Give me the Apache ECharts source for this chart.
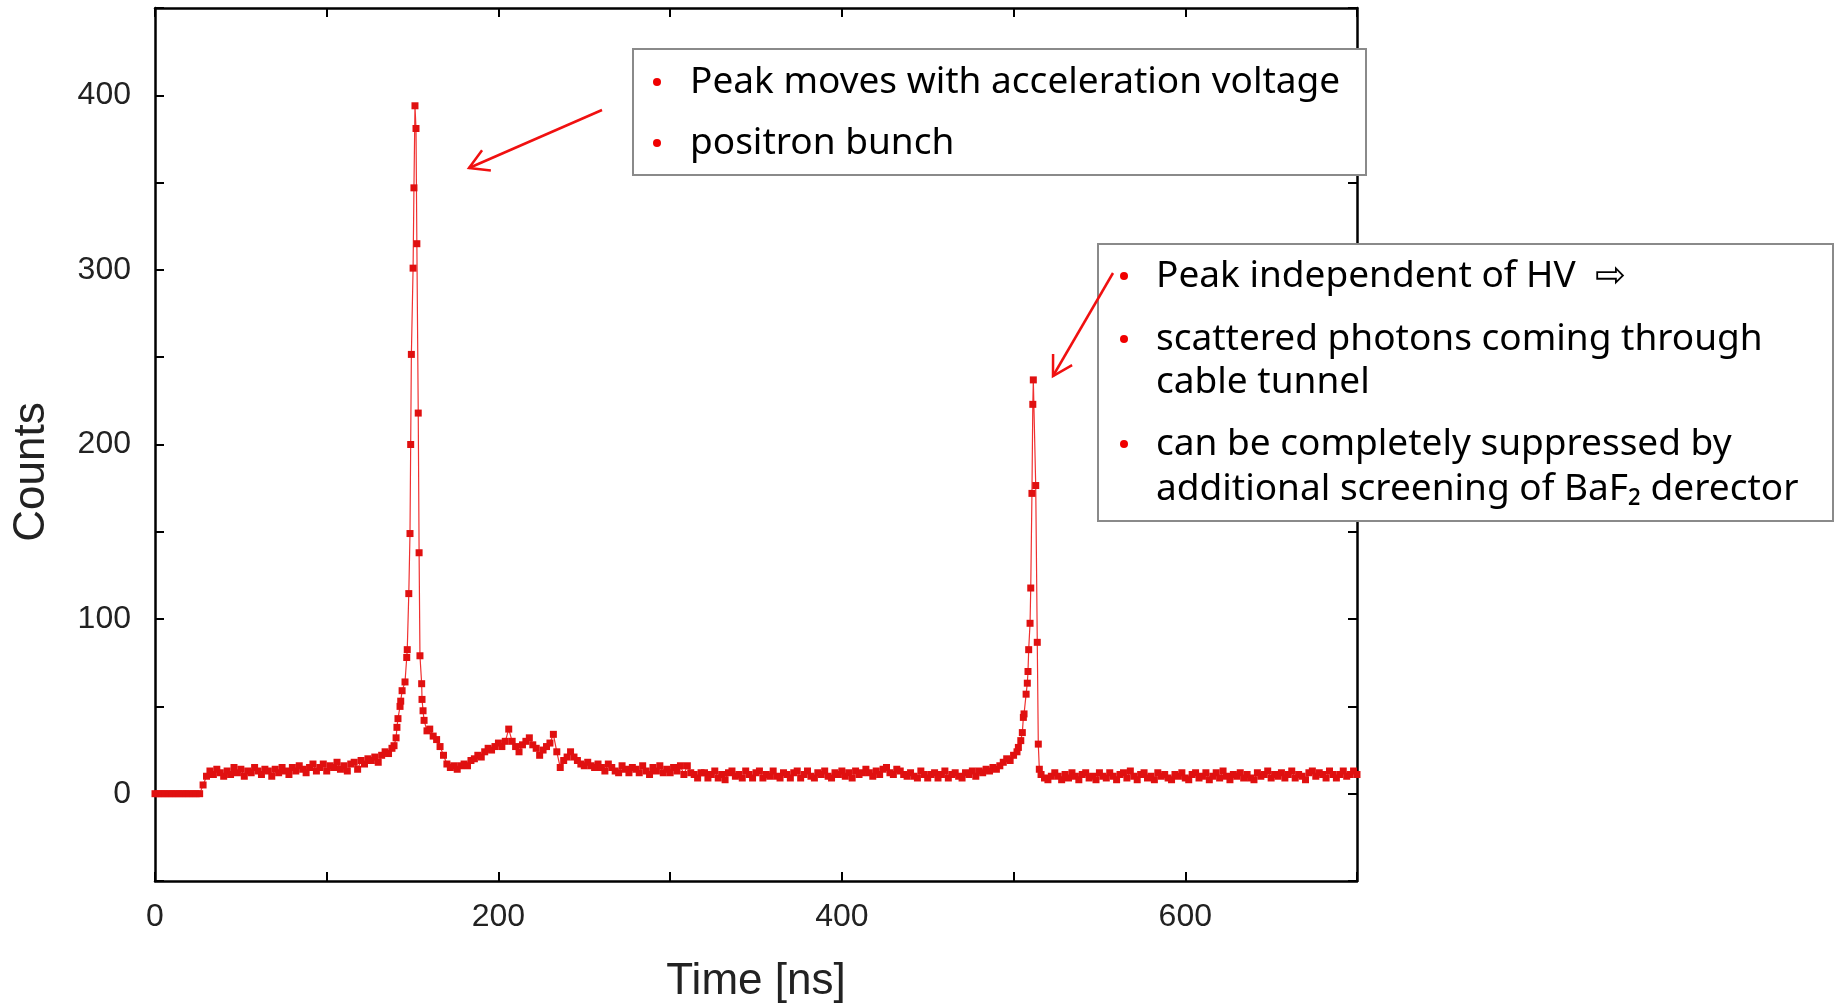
<!DOCTYPE html>
<html><head><meta charset="utf-8">
<script src="https://cdn.jsdelivr.net/npm/echarts@6/dist/echarts.min.js"></script>
<style>html,body{margin:0;padding:0;background:#fff}#c{width:1837px;height:1008px}</style>
</head><body><div id="c"></div>
<script>
// Baseline segment A: t = 0..138 ns, step 2 ns
const segAStart = 0, segAStep = 2;
const countsA = [0,0,0,0,0,0,0,0,0,0,0,0,0,0,
  5,10,13,11,14,12,10,13,11,15,
  12,14,10,13,12,15,13,11,14,13,
  10,14,12,15,13,11,15,13,16,14,
  12,15,17,13,15,17,13,16,15,18,
  14,16,13,17,18,14,19,17,20,19,
  21,18,22,24,23,26];
// Peak 1 (positron bunch)
const peak1Time = [139.2,140.4,140.9,141.5,142.7,143.1,143.9,145.6,146.6,146.9,147.8,148.5,148.9,149.3,150.3,150.8,151.4,152.0,152.5,153.3,153.8,154.3,155.3,155.5,156.1,156.7,158.4];
const peak1Counts = [27.5,32,38,43,50,53,59,64,78,82.5,114.6,149,200,251.6,301,347,394,381,315,218,138,79,63,54,47.5,42,36];
// Baseline segment B: t = 160..500 ns, step 2 ns
const segBStart = 160, segBStep = 2;
const countsB = [
  37,33,31,27,22,17,15,16,14,16,
  17,16,19,20,22,21,24,26,25,27,
  29,27,30,37,30,27,24,28,30,32,
  28,26,22,25,27,29,34,24,15,19,
  21,24,21,19,17,16,18,16,15,17,
  15,13,17,15,13,12,16,14,12,15,
  14,12,16,13,11,15,13,16,12,14,
  12,15,13,16,11,16,12,11,9,12,
  12,9,11,13,9,11,8,12,13,10,
  11,9,13,11,9,12,13,9,11,10,
  13,10,9,12,11,9,12,13,9,11,
  13,10,9,12,11,13,10,9,12,11,
  13,10,12,9,13,11,12,14,12,10,
  13,11,14,15,12,11,14,13,11,10,
  12,10,9,13,11,9,11,12,9,11,
  13,9,11,12,10,9,12,11,13,10,
  13,12,14,13,15,14,16,18,20,19,
  22];
// Peak 2 (scattered photons)
const peak2Time = [502.0,502.8,504.2,505.1,505.7,506.1,507.3,508.0,508.4,508.8,509.6,510.0,510.7,511.2,511.5,512.9,513.8,514.4,515.0];
const peak2Counts = [24,26.5,30.4,35,43.7,45.7,57,63.3,70,82.5,97.6,117.8,172,223,237,176.5,86.7,28.4,14];
// Baseline segment C: t = 516..700 ns, step 2 ns
const segCStart = 516, segCStep = 2;
const countsC = [
  11,9,8,10,12,10,8,11,9,12,
  10,8,11,12,9,10,8,12,10,9,
  12,10,8,11,12,9,13,10,8,11,
  12,9,10,8,12,10,11,9,8,11,
  10,12,9,8,11,12,9,10,12,8,
  10,12,9,13,10,8,11,10,12,9,
  11,9,8,12,10,11,13,9,11,10,
  12,9,11,13,9,11,10,8,12,13,
  10,12,11,9,13,11,9,11,13,10,
  11,13,11];

const xTickLabels = [0,200,400,600];
const yTickLabels = [0,100,200,300,400];

function seg(start, step, arr){ return arr.map((v,i)=>[start+i*step, v]); }
function pairs(ts, cs){ return ts.map((t,i)=>[t, cs[i]]); }
const data = [].concat(
  seg(segAStart, segAStep, countsA),
  pairs(peak1Time, peak1Counts),
  seg(segBStart, segBStep, countsB),
  pairs(peak2Time, peak2Counts),
  seg(segCStart, segCStep, countsC)
);

const chart = echarts.init(document.getElementById('c'), null, {renderer:'canvas'});
const axisLineStyle = {color:'#000', width:2.5};
const tickStyle = {inside:true, length:9, lineStyle:{color:'#000', width:2}};
const lblFont = {fontSize:32, fontFamily:'"Liberation Sans", Arial, sans-serif', color:'#222'};

function arrow(x1,y1,x2,y2){
  const dx=x1-x2, dy=y1-y2, L=Math.hypot(dx,dy), ux=dx/L, uy=dy/L, a=Math.PI/6, h=22;
  const p1=[x2+h*(ux*Math.cos(a)-uy*Math.sin(a)), y2+h*(ux*Math.sin(a)+uy*Math.cos(a))];
  const p2=[x2+h*(ux*Math.cos(a)+uy*Math.sin(a)), y2+h*(-ux*Math.sin(a)+uy*Math.cos(a))];
  return [
    {type:'polyline', z:100, shape:{points:[[x1,y1],[x2,y2]]}, style:{stroke:'#f01010', lineWidth:2.5, fill:null}},
    {type:'polyline', z:100, shape:{points:[p1,[x2,y2],p2]}, style:{stroke:'#f01010', lineWidth:2.5, fill:null}}
  ];
}
const annFont = '37px "Noto Sans", sans-serif';
function txt(x,y,s){ return {type:'text', z:101, x:x, y:y, style:{text:s, font:annFont, fill:'#000', verticalAlign:'middle', align:'left'}}; }
function dot(x,y){ return {type:'circle', z:101, shape:{cx:x, cy:y, r:4}, style:{fill:'#f00000'}}; }

const graphics = [
  {type:'rect', z:99, shape:{x:633, y:49, width:733, height:126}, style:{fill:'#fff', stroke:'#8a8a8a', lineWidth:2}},
  dot(657,82), txt(690,82,'Peak moves with acceleration voltage'),
  dot(657,143), txt(690,143,'positron bunch'),
  {type:'rect', z:99, shape:{x:1098, y:244, width:735, height:277}, style:{fill:'#fff', stroke:'#8a8a8a', lineWidth:2}},
  dot(1124,276), txt(1156,276,'Peak independent of HV  \u21E8'),
  dot(1124,339), txt(1156,339,'scattered photons coming through'),
  txt(1156,382,'cable tunnel'),
  dot(1124,444), txt(1156,444,'can be completely suppressed by'),
  txt(1156,489,'additional screening of BaF\u2082 derector'),
  {type:'text', x:32, y:472, rotation:Math.PI/2, style:{text:'Counts', font:'44px "Liberation Sans", Arial, sans-serif', fill:'#222', align:'center', verticalAlign:'middle'}},
  {type:'text', x:756, y:982, style:{text:'Time [ns]', font:'44px "Liberation Sans", Arial, sans-serif', fill:'#222', align:'center', verticalAlign:'middle'}}
].concat(arrow(602,110,469,168), arrow(1113,273,1053,376));

chart.setOption({
  animation:false,
  backgroundColor:'#fff',
  grid:{left:155, right:480, top:8, bottom:127, containLabel:false},
  xAxis:[
    {type:'value', min:0, max:700, interval:100, position:'bottom',
     axisLine:{show:true, onZero:false, lineStyle:axisLineStyle}, axisTick:tickStyle, splitLine:{show:false},
     axisLabel:Object.assign({margin:20, formatter:v=>xTickLabels.includes(v)?String(v):''}, lblFont)},
    {type:'value', min:0, max:700, interval:100, position:'top',
     axisLine:{show:true, onZero:false, lineStyle:axisLineStyle}, axisTick:tickStyle, splitLine:{show:false}, axisLabel:{show:false}}
  ],
  yAxis:[
    {type:'value', min:-50, max:450, interval:50, position:'left',
     axisLine:{show:true, onZero:false, lineStyle:axisLineStyle}, axisTick:tickStyle, splitLine:{show:false},
     axisLabel:Object.assign({margin:24, formatter:v=>yTickLabels.includes(v)?String(v):''}, lblFont)},
    {type:'value', min:-50, max:450, interval:50, position:'right',
     axisLine:{show:true, onZero:false, lineStyle:axisLineStyle}, axisTick:tickStyle, splitLine:{show:false}, axisLabel:{show:false}}
  ],
  series:[{
    type:'line', xAxisIndex:0, yAxisIndex:0, data:data,
    symbol:'rect', symbolSize:7, showSymbol:true, showAllSymbol:true,
    lineStyle:{color:'#f03030', width:1.2}, itemStyle:{color:'#e01010'},
    emphasis:{disabled:true}
  }],
  graphic:graphics
});
</script></body></html>
